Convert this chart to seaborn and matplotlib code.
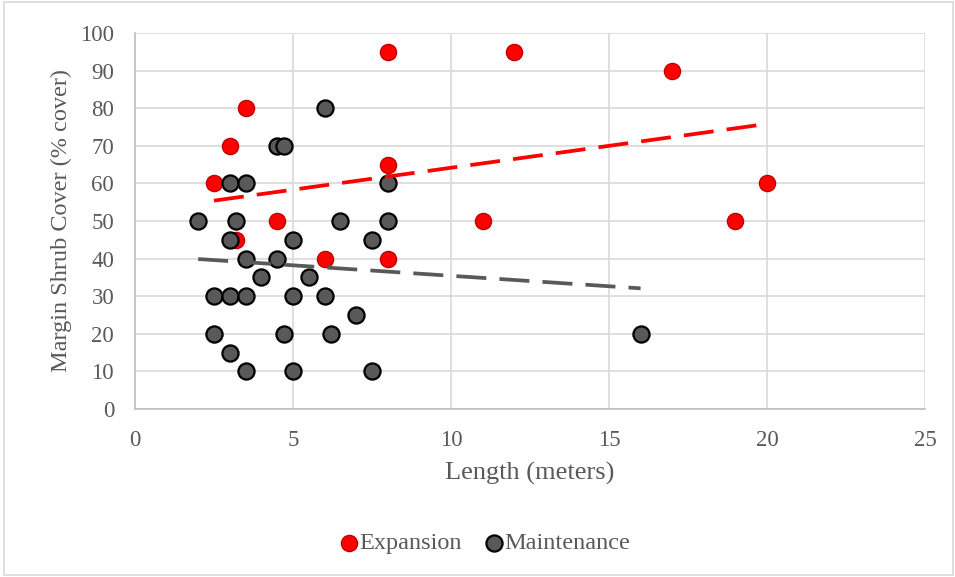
import numpy as np
import pandas as pd
import seaborn as sns
import matplotlib.pyplot as plt
from matplotlib.patches import Rectangle

# Expansion sites: length (m) and margin shrub cover (%)
exp_length = [8, 12, 17, 3.5, 3, 2.5, 8, 20, 4.5, 11, 19, 3.2, 6, 8, 2.5]
exp_cover = [95, 95, 90, 80, 70, 60, 65, 60, 50, 50, 50, 45, 40, 40, 20]

# Maintenance sites
maint_length = [6, 4.5, 4.7, 3, 3.5, 8, 2, 3.2, 6.5, 8, 3, 5, 7.5, 3.5, 4.5,
                4, 5.5, 2.5, 3, 3.5, 5, 6, 7, 2.5, 4.7, 6.2, 16, 3, 3.5, 5, 7.5]
maint_cover = [80, 70, 70, 60, 60, 60, 50, 50, 50, 50, 45, 45, 45, 40, 40,
               35, 35, 30, 30, 30, 30, 30, 25, 20, 20, 20, 20, 15, 10, 10, 10]

# linear trendlines (slope, intercept)
exp_trend = (1.166, 52.5)
maint_trend = (-0.557, 41.0)

df_exp = pd.DataFrame({"length": exp_length, "cover": exp_cover})
df_maint = pd.DataFrame({"length": maint_length, "cover": maint_cover})

sns.set_style("white")
plt.rcParams["font.family"] = ["Liberation Serif", "DejaVu Serif"]

fig = plt.figure(figsize=(9.55, 5.77), dpi=100)
ax = fig.add_axes([135 / 955, 1 - 409 / 577, 790 / 955, 376 / 577])

red = "#FF0000"
grey = "#595959"

sns.scatterplot(data=df_exp, x="length", y="cover", ax=ax, color=red,
                edgecolor="#C00000", linewidth=1.0, s=135, zorder=3,
                label="Expansion")
sns.scatterplot(data=df_maint, x="length", y="cover", ax=ax, color=grey,
                edgecolor="black", linewidth=1.6, s=135, zorder=4,
                label="Maintenance")

# dashed trendlines over each series' range
for df, (m, b), col in [(df_exp, exp_trend, red), (df_maint, maint_trend, grey)]:
    xs = np.array([df["length"].min(), df["length"].max()])
    ax.plot(xs, m * xs + b, color=col, lw=2.7, ls=(0, (8, 3.5)), zorder=5)

ax.set_xlim(0, 25)
ax.set_ylim(0, 100)
ax.set_xticks(range(0, 26, 5))
ax.set_yticks(range(0, 101, 10))
ax.grid(True, color="#D9D9D9", lw=1.2)
ax.set_axisbelow(True)
for side in ["top", "right"]:
    ax.spines[side].set_visible(False)
for side in ["left", "bottom"]:
    ax.spines[side].set_color("#BFBFBF")
    ax.spines[side].set_linewidth(1.2)
ax.tick_params(axis="both", length=0, labelsize=16.5, labelcolor=grey)
ax.tick_params(axis="x", pad=15)
ax.tick_params(axis="y", pad=15)

ax.set_xlabel("Length (meters)", fontsize=19, color=grey, labelpad=8)
ax.set_ylabel("Margin Shrub Cover (% cover)", fontsize=17.5, color=grey,
              labelpad=6)

leg = ax.legend(loc="center", bbox_to_anchor=(0.5, (577 - 543) / 577),
                bbox_transform=fig.transFigure, ncol=2, frameon=False,
                fontsize=17.5, handletextpad=-0.55, columnspacing=0.3,
                markerscale=1.0)
for t in leg.get_texts():
    t.set_color(grey)

# light chart border
fig.patches.append(Rectangle((4 / 955, 2 / 577), 949 / 955, 573 / 577,
                             transform=fig.transFigure, fill=False,
                             edgecolor="#D9D9D9", lw=1.2))

fig.savefig("out.png", dpi=100)
